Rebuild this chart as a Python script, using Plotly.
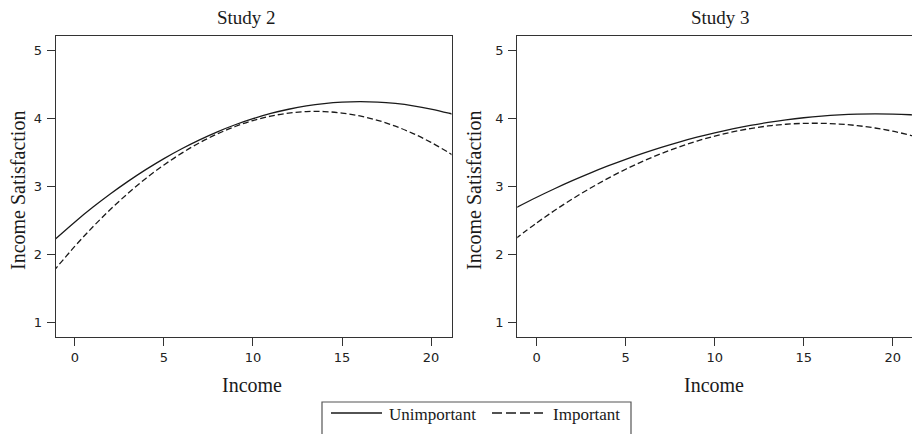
import plotly.graph_objects as go

# ---- data ----
income = [-1.2, 0, 1, 2, 3, 4, 5, 6, 7, 8, 9, 10, 11, 12, 13, 14, 15, 16, 17, 18, 19, 20, 21, 21.3]

s2_unimportant = [2.198, 2.474, 2.688, 2.888, 3.074, 3.247, 3.406, 3.551, 3.682, 3.800, 3.904, 3.993,
                  4.070, 4.132, 4.181, 4.216, 4.237, 4.244, 4.238, 4.217, 4.183, 4.135, 4.074, 4.053]
s2_important = [1.749, 2.117, 2.399, 2.660, 2.899, 3.117, 3.312, 3.486, 3.639, 3.769, 3.878, 3.966,
                4.031, 4.075, 4.097, 4.098, 4.076, 4.033, 3.969, 3.882, 3.774, 3.644, 3.493, 3.443]
s3_unimportant = [2.678, 2.837, 2.962, 3.081, 3.192, 3.297, 3.395, 3.486, 3.571, 3.649, 3.720, 3.785,
                  3.843, 3.894, 3.938, 3.976, 4.007, 4.031, 4.048, 4.059, 4.063, 4.060, 4.051, 4.047]
s3_important = [2.224, 2.459, 2.641, 2.811, 2.969, 3.115, 3.249, 3.371, 3.480, 3.578, 3.664, 3.737,
                3.799, 3.848, 3.886, 3.911, 3.924, 3.925, 3.914, 3.891, 3.856, 3.809, 3.749, 3.729]

panel_titles = ["Study 2", "Study 3"]
series_names = ["Unimportant", "Important"]
x_ticks = [0, 5, 10, 15, 20]
y_ticks = [1, 2, 3, 4, 5]

W, H = 912, 434


def px(x):
    return x / W


def py(y):
    return 1 - y / H


SERIF = "Liberation Serif, Times New Roman, serif"
SANS = "DejaVu Sans, sans-serif"
INK = "#1a1a1a"

fig = go.Figure()
for ax, (uni, imp) in zip(["", "2"], [(s2_unimportant, s2_important), (s3_unimportant, s3_important)]):
    fig.add_trace(go.Scatter(x=income, y=uni, mode="lines", name=series_names[0], showlegend=False,
                             line=dict(color=INK, width=1.3, shape="spline"),
                             xaxis="x" + ax, yaxis="y" + ax))
    fig.add_trace(go.Scatter(x=income, y=imp, mode="lines", name=series_names[1], showlegend=False,
                             line=dict(color=INK, width=1.3, shape="spline", dash="6px,3px"),
                             xaxis="x" + ax, yaxis="y" + ax))

ydom = [py(337), py(36)]
axis_common = dict(showgrid=False, zeroline=False, showline=True, linecolor="#333", linewidth=1.3,
                   mirror=True, ticks="outside", ticklen=8, tickwidth=1.3, tickcolor="#333",
                   tickfont=dict(family=SANS, size=13, color="#222"))
yextra = dict(ticklabelstandoff=2)

fig.update_layout(
    width=W, height=H,
    margin=dict(l=0, r=0, t=0, b=0),
    paper_bgcolor="white", plot_bgcolor="white",
    xaxis=dict(domain=[px(55.7), px(451.5)], range=[-1.08, 21.15], tickvals=x_ticks, **axis_common),
    yaxis=dict(domain=ydom, range=[0.78, 5.21], tickvals=y_ticks, **axis_common, **yextra),
    xaxis2=dict(domain=[px(517.3), 1.0], range=[-1.09, 21.08], tickvals=x_ticks, anchor="y2", **axis_common),
    yaxis2=dict(domain=ydom, range=[0.78, 5.21], tickvals=y_ticks, anchor="x2", **axis_common, **yextra),
)

ann = []
# panel titles
for x_px, t in zip([246, 720], panel_titles):
    ann.append(dict(x=px(x_px), y=py(17), xref="paper", yref="paper", text=t, showarrow=False,
                    xanchor="center", yanchor="middle", font=dict(family=SERIF, size=19, color=INK)))
# x axis titles
for x_px in [252, 714]:
    ann.append(dict(x=px(x_px), y=py(385), xref="paper", yref="paper", text="Income", showarrow=False,
                    xanchor="center", yanchor="middle", font=dict(family=SERIF, size=20, color=INK)))
# y axis titles
for x_px in [18, 474]:
    ann.append(dict(x=px(x_px), y=py(191), xref="paper", yref="paper", text="Income Satisfaction",
                    showarrow=False, textangle=-90, xanchor="center", yanchor="middle",
                    font=dict(family=SERIF, size=20, color=INK)))
# legend text
for x_px, t in zip([387, 551], series_names):
    ann.append(dict(x=px(x_px), y=py(414), xref="paper", yref="paper", text=t, showarrow=False,
                    xanchor="left", yanchor="middle", font=dict(family=SERIF, size=17, color=INK)))
fig.update_layout(annotations=ann)

shapes = [
    dict(type="rect", xref="paper", yref="paper", x0=px(322), x1=px(631), y0=-0.05, y1=py(402),
         line=dict(color="#555", width=1.2), fillcolor="rgba(0,0,0,0)"),
    dict(type="line", xref="paper", yref="paper", x0=px(331), x1=px(382), y0=py(413), y1=py(413),
         line=dict(color=INK, width=1.3)),
    dict(type="line", xref="paper", yref="paper", x0=px(492), x1=px(543), y0=py(413), y1=py(413),
         line=dict(color=INK, width=1.3, dash="10px,4px")),
]
fig.update_layout(shapes=shapes)

fig.write_html("out.html",
               config={"displayModeBar": False},
               post_script="document.body.style.margin='0';document.body.style.overflow='hidden';")
